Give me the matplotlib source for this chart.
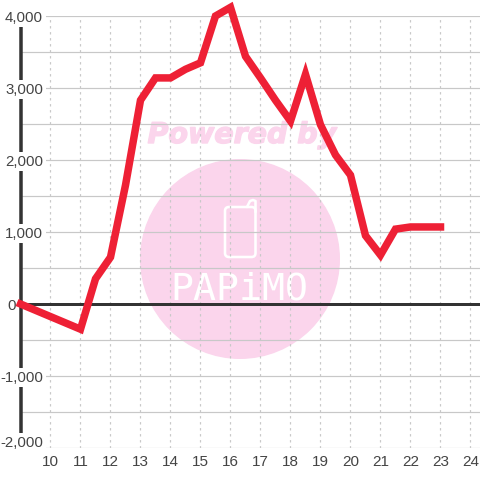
import matplotlib
matplotlib.use("Agg")
from matplotlib import pyplot as plt
from matplotlib.patches import Circle, FancyBboxPatch
import matplotlib.patheffects as pe

hours = [9, 11, 11.5, 12, 12.5, 13, 13.5, 14, 14.5, 15, 15.5, 16, 16.5, 17, 17.5,
         18, 18.5, 19, 19.5, 20, 20.5, 21, 21.5, 22, 22.5, 23]
values = [0, -350, 350, 650, 1650, 2830, 3140, 3140, 3260, 3350, 4000, 4120, 3440, 3140, 2830,
          2540, 3190, 2490, 2070, 1790, 950, 680, 1040, 1070, 1070, 1070]
x_ticks = list(range(10, 25))
y_ticks = [-2000, -1000, 0, 1000, 2000, 3000, 4000]
y_grid = [-2000, -1500, -1000, -500, 500, 1000, 1500, 2000, 2500, 3000, 3500, 4000]

PINK = "#fbd5ec"
PX = 72 / 100  # points per pixel at dpi 100

plt.rcParams['font.family'] = ['Liberation Sans', 'DejaVu Sans']
fig = plt.figure(figsize=(4.8, 4.8), dpi=100)

# watermark lives in its own pixel-space axes behind the chart
bg = fig.add_axes([0, 0, 1, 1], zorder=0)
bg.set_xlim(0, 480)
bg.set_ylim(480, 0)
bg.axis("off")
bg.add_patch(Circle((240, 259), 100, color=PINK, lw=0))
bg.text(242, 135, "Powered by", color=PINK, fontsize=20.5, fontweight="bold", fontstyle="italic",
        family="DejaVu Sans", ha="center", va="center",
        path_effects=[pe.withStroke(linewidth=1.0, foreground=PINK)])
bg.add_patch(FancyBboxPatch((225, 207), 30.5, 50, boxstyle="round,pad=0,rounding_size=4",
                            fc="none", ec="white", lw=2.6 * PX))
bg.plot([247, 250, 253, 255.5, 255.5], [207, 201, 200, 201, 212], color="white", lw=2.6 * PX,
        solid_capstyle="round")
bg.text(239, 290, "PAPiMO", color="white", fontsize=27.5, ha="center", va="center",
        family="DejaVu Sans Mono")

# main chart: y -2000..4000 -> px 448..16, 30 px per hour from px 20.5
ax = fig.add_axes([20.5 / 480, 32 / 480, 459.5 / 480, 432 / 480], zorder=1)
ax.patch.set_alpha(0)
ax.set_xlim(9, 24.317)
ax.set_ylim(-2000, 4000)

ax.hlines(y_grid, 9, 24.317, color="#c8c8c8", lw=1.2 * PX, zorder=1)
ax.vlines(x_ticks, -2000, 4000, color="#c8c8c8", lw=1.2 * PX, linestyles=(0, (2, 3)), zorder=1)
ax.axhline(0, color="#333333", lw=3 * PX, zorder=1.2)

for side in ["top", "right", "bottom"]:
    ax.spines[side].set_visible(False)
ax.spines["left"].set_color("#333333")
ax.spines["left"].set_linewidth(3.5 * PX)
ax.spines["left"].set_zorder(1.1)

ax.set_xticks(x_ticks)
ax.set_yticks([])
ax.tick_params(axis="x", length=0, labelsize=11, labelcolor="#444444", pad=5)

for v in y_ticks:
    # labels sit on the axis line with a white box, 0 and -2,000 are nudged
    dx, dy = 22.5, 0
    box = dict(facecolor="white", edgecolor="none", pad=2)
    if v == 0:
        dx, box = -4.5, None
    if v == -2000:
        dy = 6.5
    ax.annotate(f"{v:,}", xy=(9, v), xytext=(dx * PX, dy * PX), textcoords="offset points",
                ha="right", va="center_baseline", fontsize=10.8, color="#444444", bbox=box,
                zorder=1.5, annotation_clip=False)

ax.plot(hours, values, color="#ee2035", lw=7.5 * PX, zorder=3, clip_on=False,
        solid_joinstyle="miter", solid_capstyle="projecting")

fig.savefig("out.png", dpi=100)
